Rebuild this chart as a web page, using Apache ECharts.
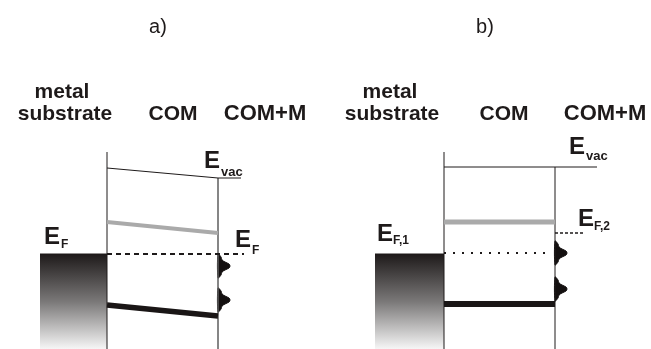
<!DOCTYPE html>
<html><head><meta charset="utf-8">
<script src="https://cdn.jsdelivr.net/npm/echarts@6/dist/echarts.min.js"></script>
<style>html,body{margin:0;padding:0;background:#fff}#c{width:651px;height:349px}</style>
</head><body><div id="c"></div>
<script>
// Energy axis: arbitrary units, metal Fermi level = 0, positive upward.
// Position axis: horizontal position across the layer stack (arbitrary units).
const panelLabels = ['a)', 'b)'];
const columnHeaders = ['metal', 'substrate', 'COM', 'COM+M'];

// ---- panel a) ----
const interfaceLeftA = [[107, 102], [107, -95]];
const interfaceRightA = [[218, 76], [218, -95]];
const vacuumA = [[107, 86], [218, 76], [241, 76]];
const lumoA = [[107, 32], [218, 21]];
const fermiA = [[107, 0], [244, 0]];
const homoA = [[107, -51], [218, -62]];
const metalA = [[40, 0], [107, 0]];
const dosPeaksA = [[218, -12], [218, -46]];

// ---- panel b) ----
const interfaceLeftB = [[444, 102], [444, -95]];
const interfaceRightB = [[555, 87], [555, -95]];
const vacuumB = [[444, 87], [597, 87]];
const lumoB = [[444, 32], [555, 32]];
const fermi1B = [[444, 1], [548, 1]];
const fermi2B = [[555, 21], [583, 21]];
const homoB = [[444, -50], [555, -50]];
const metalB = [[375, 0], [444, 0]];
const dosPeaksB = [[555, 1], [555, -35]];

// gap-state DOS profile (energy offset from peak, DOS width)
const dosOffset = [12, 9, 6, 4, 2, 0, -2, -4, -6, -9, -12];
const dosWidth  = [0, 3, 4, 7, 11, 12, 11, 7, 4, 3, 0];

const INK = '#1e1a1a';
function line(data, color, width, type) {
  return { type: 'line', data, symbol: 'none', silent: true, animation: false,
    lineStyle: { color, width, type: type || 'solid', cap: 'butt' } };
}
function metal(data) {
  return { type: 'line', data, symbol: 'none', silent: true, animation: false,
    lineStyle: { color: INK, width: 1 },
    areaStyle: { origin: 'start', opacity: 1,
      color: new echarts.graphic.LinearGradient(0, 0, 0, 1, [
        { offset: 0, color: '#1e1a1a' },
        { offset: 0.5, color: '#7a7878' },
        { offset: 1, color: '#f6f6f6' }
      ]) } };
}
const FONT = '"Liberation Sans", Arial, sans-serif';
function txt(x, y, text, size, weight, align) {
  return { type: 'text', x, y, silent: true,
    style: { text, font: `${weight} ${size}px ${FONT}`, fill: INK,
      align: align || 'center', verticalAlign: 'middle',
      textAlign: align || 'center', textVerticalAlign: 'middle' } };
}

const chart = echarts.init(document.getElementById('c'), null, { renderer: 'canvas' });
chart.setOption({
  animation: false,
  backgroundColor: '#fff',
  grid: { left: 0, right: 0, top: 0, bottom: 0 },
  xAxis: { type: 'value', min: 0, max: 651, show: false },
  yAxis: { type: 'value', min: -95, max: 254, show: false },
  series: [
    metal(metalA), metal(metalB),
    line(interfaceLeftA, INK, 1), line(interfaceRightA, '#5e5e5e', 1.5),
    line(interfaceLeftB, INK, 1), line(interfaceRightB, INK, 1),
    line(vacuumA, INK, 1), line(vacuumB, INK, 1),
    line(lumoA, '#aaaaaa', 4), line(lumoB, '#aaaaaa', 5),
    line(fermiA, INK, 2, [5, 4]),
    line(fermi1B, INK, 2, [2, 7]),
    line(fermi2B, INK, 1.5, [3, 2]),
    line(homoA, '#1a1616', 5.5), line(homoB, '#1a1616', 6),
    {
      type: 'custom', silent: true, animation: false,
      data: dosPeaksA.concat(dosPeaksB),
      renderItem: function (params, api) {
        const x0 = api.value(0), e0 = api.value(1);
        const pts = dosOffset.map((d, i) => api.coord([x0 + dosWidth[i], e0 + d]));
        return { type: 'polygon', shape: { points: pts, smooth: 0.3 },
          style: { fill: '#141010', stroke: '#141010', lineWidth: 1 } };
      }
    }
  ],
  graphic: [
    txt(158, 27, panelLabels[0], 20, 'normal'),
    txt(485, 27, panelLabels[1], 20, 'normal'),
    txt(62, 92, columnHeaders[0], 21, 'bold'),
    txt(65, 114, columnHeaders[1], 21, 'bold'),
    txt(173, 114, columnHeaders[2], 21, 'bold'),
    txt(265, 114, columnHeaders[3], 22, 'bold'),
    txt(390, 92, columnHeaders[0], 21, 'bold'),
    txt(392, 114, columnHeaders[1], 21, 'bold'),
    txt(504, 114, columnHeaders[2], 21, 'bold'),
    txt(605, 114, columnHeaders[3], 22, 'bold'),
    // panel a labels
    txt(204, 161, 'E', 24, 'bold', 'left'), txt(221, 172, 'vac', 13, 'bold', 'left'),
    txt(44, 237, 'E', 24, 'bold', 'left'), txt(61, 245, 'F', 12, 'bold', 'left'),
    txt(235, 240, 'E', 24, 'bold', 'left'), txt(252, 251, 'F', 12, 'bold', 'left'),
    // panel b labels
    txt(569, 147, 'E', 24, 'bold', 'left'), txt(586, 156, 'vac', 13, 'bold', 'left'),
    txt(377, 234, 'E', 24, 'bold', 'left'), txt(393, 241, 'F,1', 12, 'bold', 'left'),
    txt(578, 219, 'E', 24, 'bold', 'left'), txt(594, 227, 'F,2', 12, 'bold', 'left')
  ]
});
</script></body></html>
